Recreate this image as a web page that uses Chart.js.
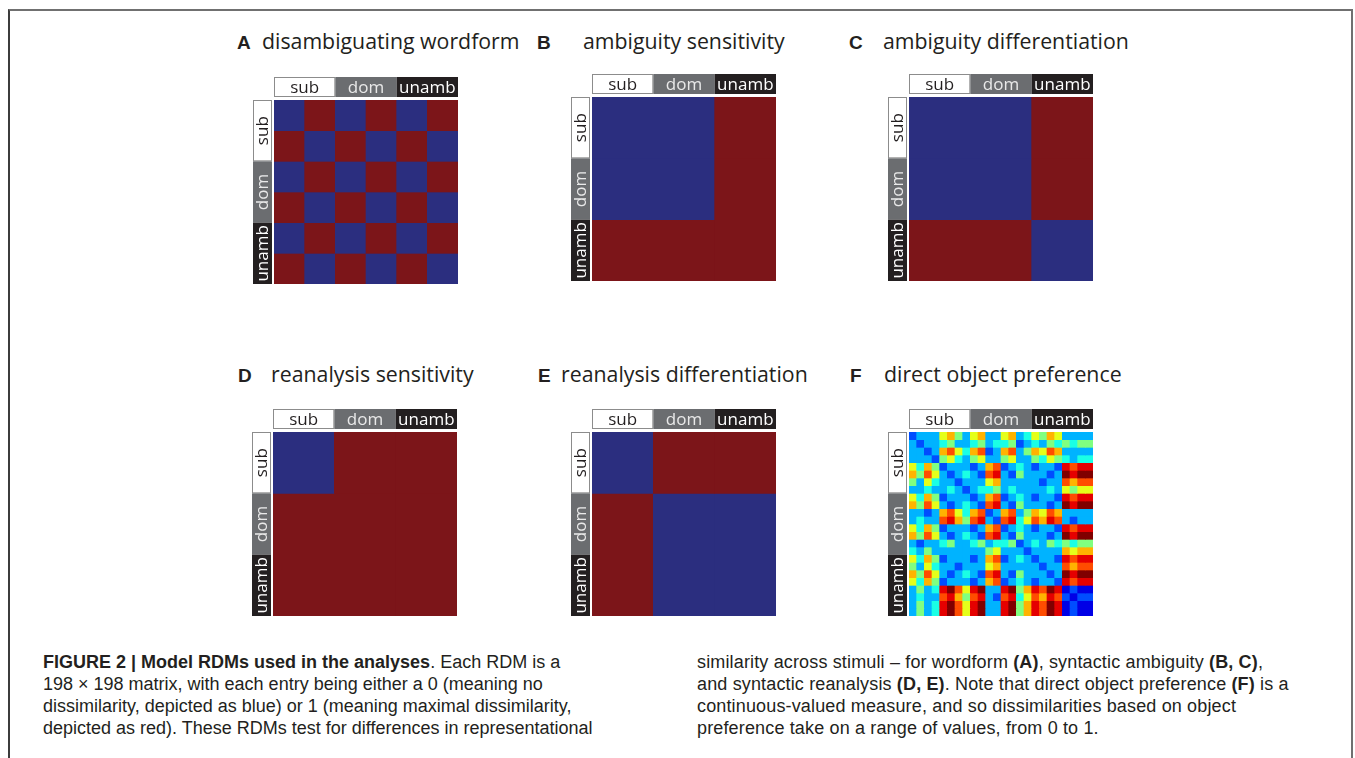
<!DOCTYPE html>
<html>
<head>
<meta charset="utf-8">
<title>Model RDMs</title>
<script src="https://cdn.jsdelivr.net/npm/chart.js@4.4.1/dist/chart.umd.min.js"></script>
<style>
  html, body { margin: 0; padding: 0; background: #fff; }
  body { width: 1355px; height: 758px; position: relative; overflow: hidden; }
  .frame { position: absolute; left: 8px; top: 9px; width: 1341px; height: 800px;
    border-top: 2px solid #707070; border-left: 2px solid #3c3c3c; border-right: 2px solid #707070; }
  .title { position: absolute; white-space: nowrap; font: 21.3px/24px "Open Sans", sans-serif; color: #231f20; }
  .title b { display: inline-block; font: bold 19px "Liberation Sans", Arial, sans-serif; }
  canvas { position: absolute; }
  .caption { position: absolute; top: 651px; font: 18px/22px "Liberation Sans", Arial, sans-serif;
    color: #231f20; white-space: nowrap; }
</style>
</head>
<body>
<div class="frame"></div>

<div class="title" style="left:237px;top:29px"><b style="width:25px">A</b>disambiguating wordform</div>
<div class="title" style="left:537px;top:29px"><b style="width:46px">B</b>ambiguity sensitivity</div>
<div class="title" style="left:849px;top:29px"><b style="width:34px">C</b>ambiguity differentiation</div>
<div class="title" style="left:238px;top:362px"><b style="width:33px">D</b>reanalysis sensitivity</div>
<div class="title" style="left:538px;top:362px"><b style="width:23px">E</b>reanalysis differentiation</div>
<div class="title" style="left:850px;top:362px"><b style="width:34px">F</b>direct object preference</div>

<canvas id="rdmA"></canvas>
<canvas id="rdmB"></canvas>
<canvas id="rdmC"></canvas>
<canvas id="rdmD"></canvas>
<canvas id="rdmE"></canvas>
<canvas id="rdmF"></canvas>

<div class="caption" style="left:43px"><b>FIGURE 2 | Model RDMs used in the analyses</b>. Each RDM is a<br>198 × 198 matrix, with each entry being either a 0 (meaning no<br>dissimilarity, depicted as blue) or 1 (meaning maximal dissimilarity,<br>depicted as red). These RDMs test for differences in representational</div>
<div class="caption" style="left:697px;letter-spacing:0.15px">similarity across stimuli – for wordform <b>(A)</b>, syntactic ambiguity <b>(B, C)</b>,<br>and syntactic reanalysis <b>(D, E)</b>. Note that direct object preference <b>(F)</b> is a<br>continuous-valued measure, and so dissimilarities based on object<br>preference take on a range of values, from 0 to 1.</div>

<script>
// stimulus groups, same order on both axes
const groupLabels = ['sub', 'dom', 'unamb'];

// binary model RDMs (0 = no dissimilarity, 1 = maximal), rows top to bottom
const wordformRdm = [
  [0, 1, 0, 1, 0, 1],
  [1, 0, 1, 0, 1, 0],
  [0, 1, 0, 1, 0, 1],
  [1, 0, 1, 0, 1, 0],
  [0, 1, 0, 1, 0, 1],
  [1, 0, 1, 0, 1, 0]
];
const ambSensRdm = [
  [0, 0, 1],
  [0, 0, 1],
  [1, 1, 1]
];
const ambDiffRdm = [
  [0, 0, 1],
  [0, 0, 1],
  [1, 1, 0]
];
const reanSensRdm = [
  [0, 1, 1],
  [1, 1, 1],
  [1, 1, 1]
];
const reanDiffRdm = [
  [0, 1, 1],
  [1, 0, 0],
  [1, 0, 0]
];

// direct object preference RDM, coarse 24x24 reading (block means), in tenths (0..10)
const objPrefRdm = [
  [2,3,3,3, 6,7,5,3, 6,7,3,3, 6,7,3,4, 6,5,7,6, 3,3,3,3],
  [3,2,3,3, 4,5,3,3, 4,5,3,4, 4,5,2,3, 4,3,5,4, 5,4,5,5],
  [3,3,2,3, 7,8,6,4, 7,8,2,3, 7,8,3,5, 7,6,8,7, 3,3,3,3],
  [3,3,3,2, 5,6,4,3, 5,6,3,3, 5,6,3,3, 5,4,6,5, 4,3,4,4],
  [6,4,7,5, 2,3,3,3, 2,3,7,8, 2,3,4,3, 2,3,3,2, 9,8,9,9],
  [7,5,8,6, 3,2,3,4, 3,2,8,9, 3,2,5,3, 3,3,2,3, 10,9,10,10],
  [5,3,6,4, 3,3,2,3, 3,3,6,7, 3,3,3,3, 3,2,3,3, 8,7,8,8],
  [3,3,4,3, 3,4,3,2, 3,4,4,5, 3,4,3,3, 3,3,4,3, 6,5,6,6],
  [6,4,7,5, 2,3,3,3, 2,3,7,8, 2,3,4,3, 2,3,3,2, 9,8,9,9],
  [7,5,8,6, 3,2,3,4, 3,2,8,9, 3,2,5,3, 3,3,2,3, 10,9,10,10],
  [3,3,2,3, 7,8,6,4, 7,8,2,3, 7,8,3,5, 7,6,8,7, 3,3,3,3],
  [3,4,3,3, 8,9,7,5, 8,9,3,2, 8,9,4,6, 8,7,9,8, 3,2,3,3],
  [6,4,7,5, 2,3,3,3, 2,3,7,8, 2,3,4,3, 2,3,3,2, 9,8,9,9],
  [7,5,8,6, 3,2,3,4, 3,2,8,9, 3,2,5,3, 3,3,2,3, 10,9,10,10],
  [3,2,3,3, 4,5,3,3, 4,5,3,4, 4,5,2,3, 4,3,5,4, 5,4,5,5],
  [4,3,5,3, 3,3,3,3, 3,3,5,6, 3,3,3,2, 3,3,3,3, 7,6,7,7],
  [6,4,7,5, 2,3,3,3, 2,3,7,8, 2,3,4,3, 2,3,3,2, 9,8,9,9],
  [5,3,6,4, 3,3,2,3, 3,3,6,7, 3,3,3,3, 3,2,3,3, 8,7,8,8],
  [7,5,8,6, 3,2,3,4, 3,2,8,9, 3,2,5,3, 3,3,2,3, 10,9,10,10],
  [6,4,7,5, 2,3,3,3, 2,3,7,8, 2,3,4,3, 2,3,3,2, 9,8,9,9],
  [3,5,3,4, 9,10,8,6, 9,10,3,3, 9,10,5,7, 9,8,10,9, 1,2,1,1],
  [3,4,3,3, 8,9,7,5, 8,9,3,2, 8,9,4,6, 8,7,9,8, 2,1,2,2],
  [3,5,3,4, 9,10,8,6, 9,10,3,3, 9,10,5,7, 9,8,10,9, 1,2,1,1],
  [3,5,3,4, 9,10,8,6, 9,10,3,3, 9,10,5,7, 9,8,10,9, 1,2,1,1]
];

const BLUE = '#2b2e7f';
const RED = '#7c1519';

function binaryColour(v) {
  return v ? RED : BLUE;
}

// jet colormap, value given in tenths
function jetColour(v) {
  const t = v / 10;
  const c = x => Math.round(255 * Math.max(0, Math.min(1, x)));
  return `rgb(${c(1.5 - Math.abs(4 * t - 3))},${c(1.5 - Math.abs(4 * t - 2))},${c(1.5 - Math.abs(4 * t - 1))})`;
}

const BAR_W = 19, BAR_GAP = 2, HEAD_H = 20, HEAD_GAP = 3;
const groupStyle = [
  { fill: '#ffffff', text: '#231f20', border: '#8c8c8c' },
  { fill: '#6b6d70', text: '#e9e9e9' },
  { fill: '#231f20', text: '#ffffff' }
];

// draws the sub/dom/unamb bars above and left of the matrix
const groupBars = {
  id: 'groupBars',
  afterDraw(chart) {
    const { ctx, chartArea: a, scales: { x, y } } = chart;
    const n = chart.data.labels.length;
    const per = n / groupLabels.length;
    ctx.save();
    ctx.font = '17px "Open Sans", sans-serif';
    ctx.textAlign = 'center';
    ctx.textBaseline = 'middle';
    groupLabels.forEach((label, g) => {
      const st = groupStyle[g];
      // header
      const x0 = x.getPixelForValue(g * per - 0.5);
      const x1 = x.getPixelForValue((g + 1) * per - 0.5);
      const hy = a.top - HEAD_GAP - HEAD_H;
      ctx.fillStyle = st.fill;
      ctx.fillRect(x0, hy, x1 - x0, HEAD_H);
      if (st.border) {
        ctx.strokeStyle = st.border;
        ctx.lineWidth = 1;
        ctx.strokeRect(Math.round(x0) + 0.5, hy + 0.5, x1 - x0 - 1, HEAD_H - 1);
      }
      ctx.fillStyle = st.text;
      ctx.fillText(label, (x0 + x1) / 2, hy + HEAD_H / 2 + 1);
      // side bar
      const y0 = y.getPixelForValue(g * per);
      const y1 = y.getPixelForValue((g + 1) * per);
      const sx = a.left - BAR_GAP - BAR_W;
      ctx.fillStyle = st.fill;
      ctx.fillRect(sx, y0, BAR_W, y1 - y0);
      if (st.border) {
        ctx.strokeStyle = st.border;
        ctx.strokeRect(sx + 0.5, Math.round(y0) + 0.5, BAR_W - 1, y1 - y0 - 1);
      }
      ctx.save();
      ctx.translate(sx + BAR_W / 2 + 1, (y0 + y1) / 2);
      ctx.rotate(-Math.PI / 2);
      ctx.fillStyle = st.text;
      ctx.fillText(label, 0, 0);
      ctx.restore();
    });
    ctx.restore();
  }
};

function renderRdm(id, matrix, colourFn, left, top, size) {
  const canvas = document.getElementById(id);
  canvas.width = BAR_W + BAR_GAP + size;
  canvas.height = HEAD_H + HEAD_GAP + size;
  canvas.style.left = (left - BAR_W - BAR_GAP) + 'px';
  canvas.style.top = (top - HEAD_H - HEAD_GAP) + 'px';

  const n = matrix.length;
  return new Chart(canvas, {
    type: 'bar',
    data: {
      labels: matrix[0].map((_, i) => i),
      datasets: matrix.map(row => ({
        data: row.map(() => 1),
        backgroundColor: row.map(colourFn),
        borderWidth: 0,
        barPercentage: 1,
        categoryPercentage: 1
      }))
    },
    options: {
      responsive: false,
      animation: false,
      events: [],
      layout: { padding: { left: BAR_W + BAR_GAP, top: HEAD_H + HEAD_GAP, right: 0, bottom: 0 } },
      plugins: { legend: { display: false }, tooltip: { enabled: false } },
      scales: {
        x: { display: false, stacked: true },
        y: { display: false, stacked: true, min: 0, max: n, reverse: true }
      }
    },
    plugins: [groupBars]
  });
}

renderRdm('rdmA', wordformRdm, binaryColour, 274, 100, 184);
renderRdm('rdmB', ambSensRdm, binaryColour, 592, 97, 184);
renderRdm('rdmC', ambDiffRdm, binaryColour, 909, 97, 184);
renderRdm('rdmD', reanSensRdm, binaryColour, 273, 432, 184);
renderRdm('rdmE', reanDiffRdm, binaryColour, 592, 432, 184);
renderRdm('rdmF', objPrefRdm, jetColour, 909, 432, 184);
</script>
</body>
</html>
